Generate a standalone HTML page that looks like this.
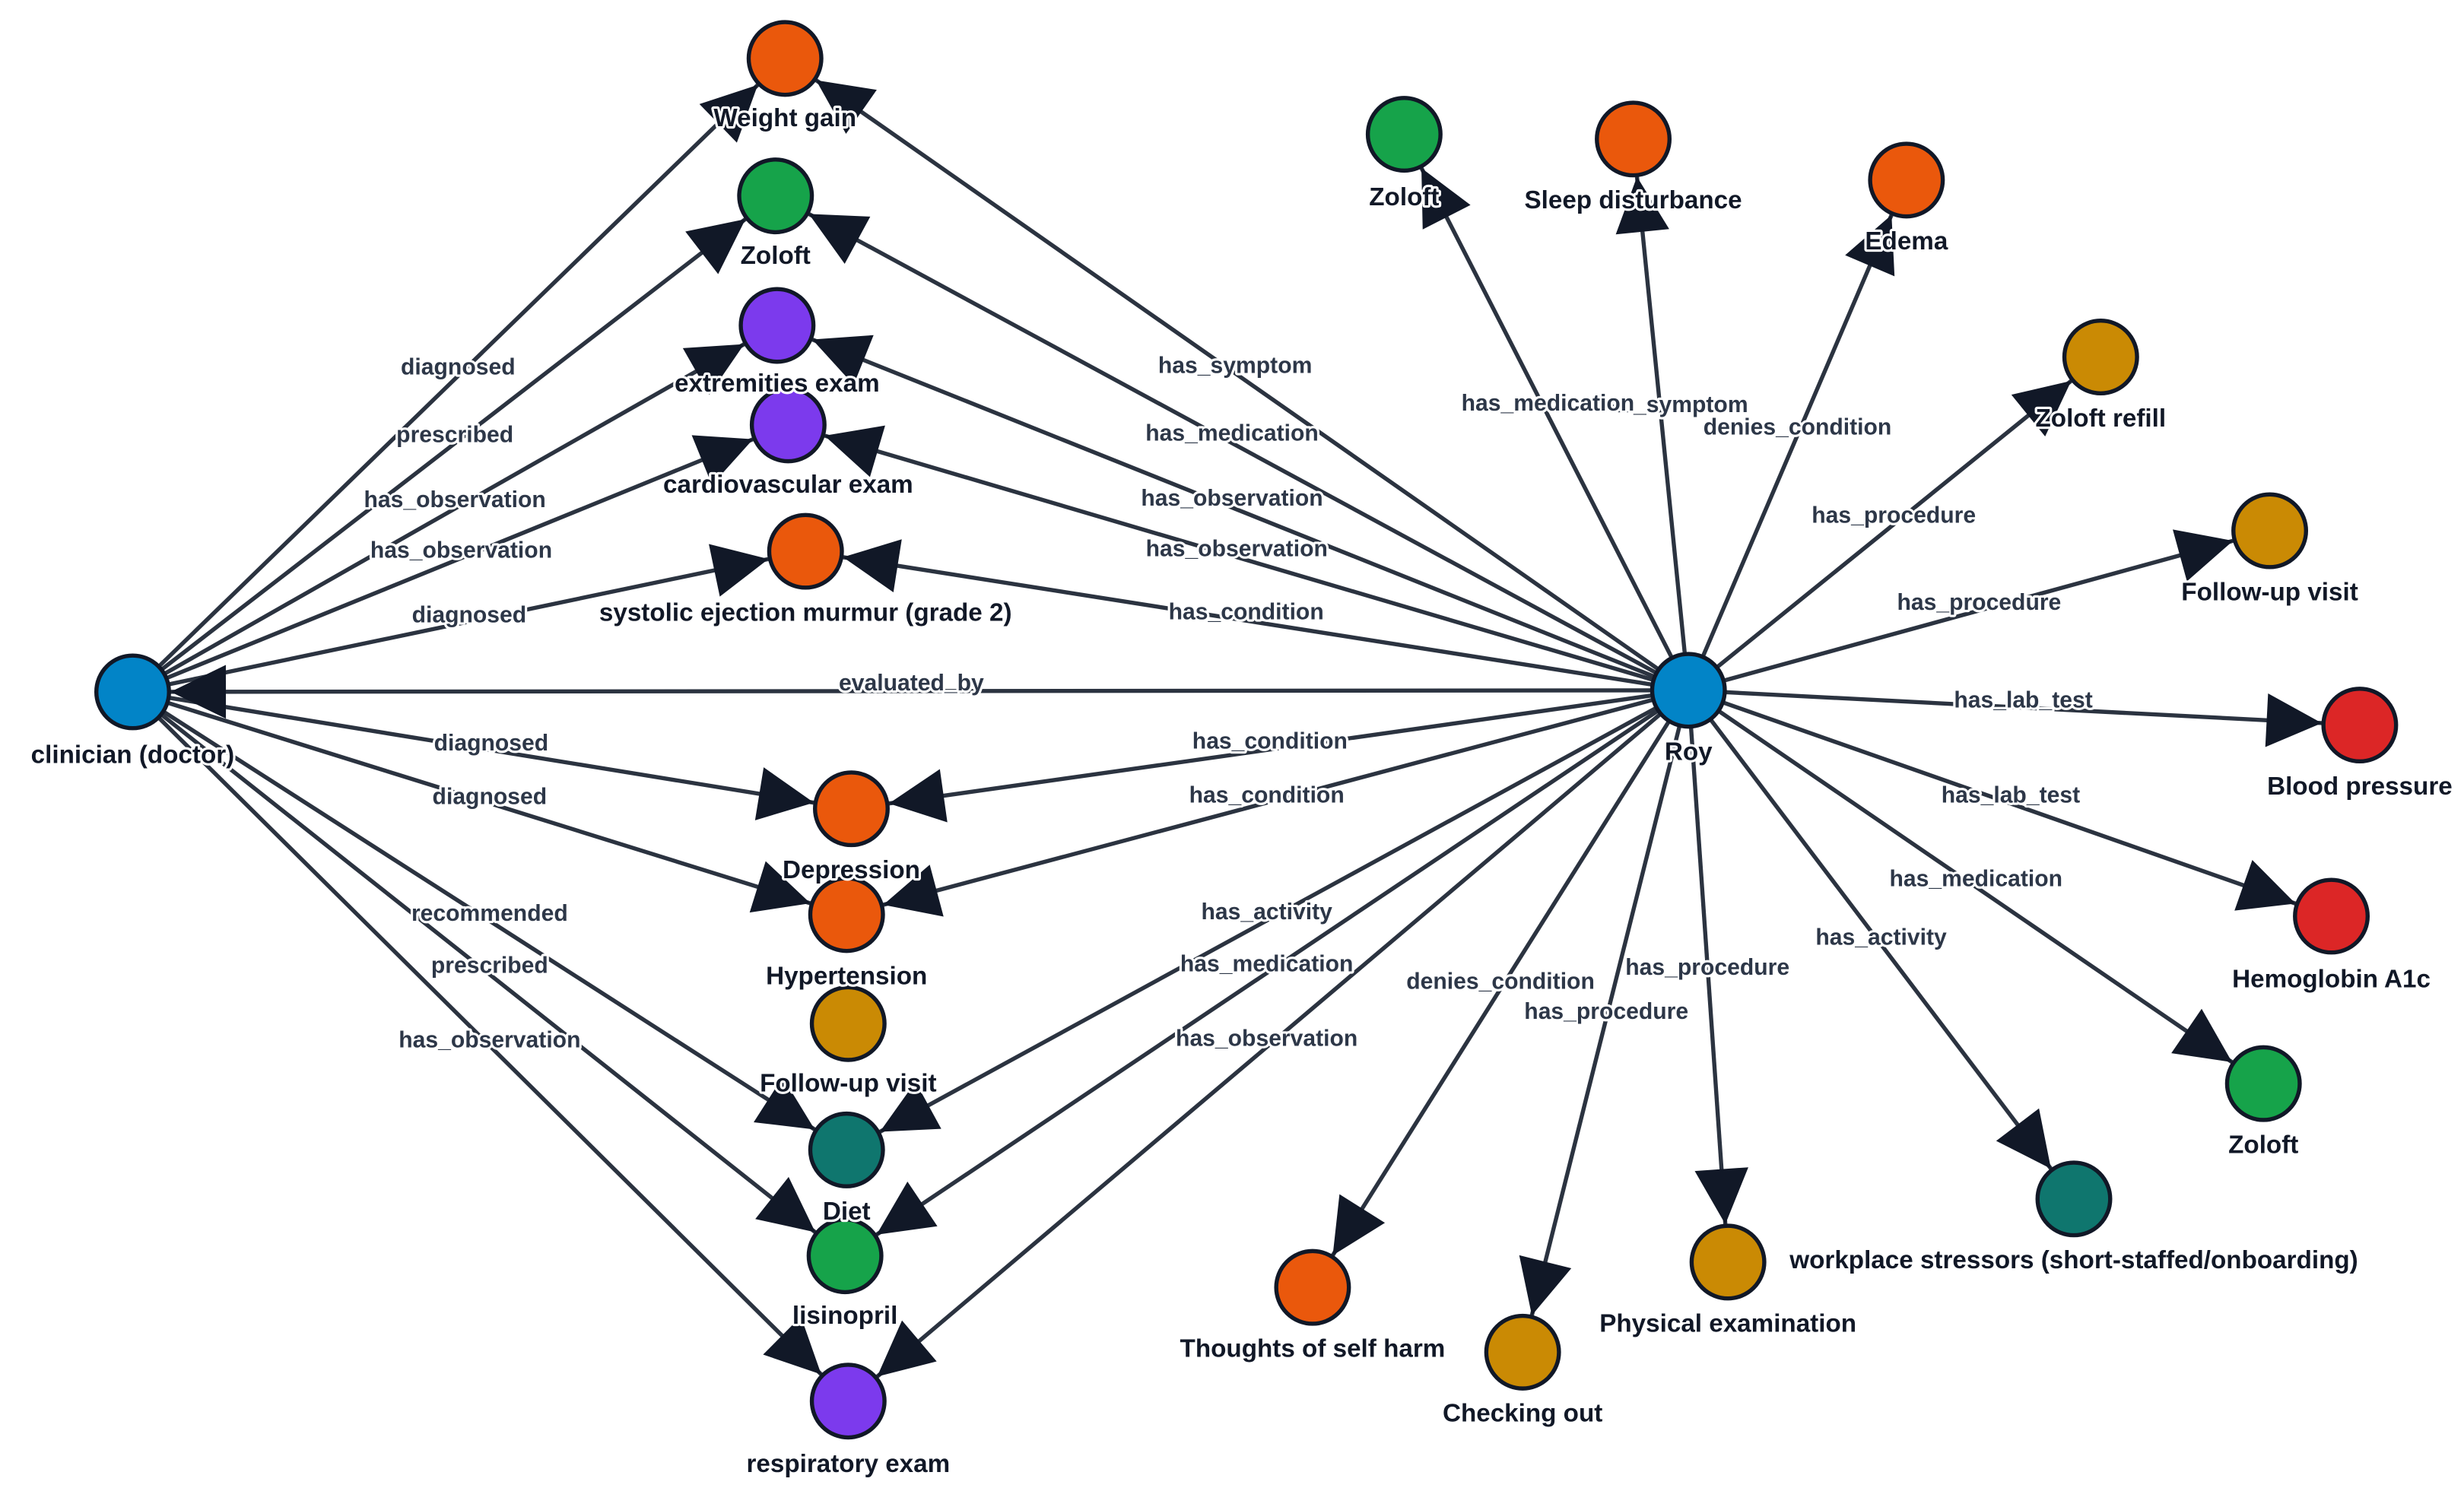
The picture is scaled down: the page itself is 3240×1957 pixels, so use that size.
<!DOCTYPE html>
<html><head><meta charset="utf-8"><style>
html,body{margin:0;padding:0;background:#fff;}
svg{display:block;}
.n{stroke:#111827;stroke-width:2.6;}
.e{stroke:#2b3340;stroke-width:2.6;fill:none;marker-end:url(#ah);}
.nl{font-family:"Liberation Sans",sans-serif;font-size:16px;font-weight:bold;fill:#111827;text-anchor:middle;paint-order:stroke;stroke:#fff;stroke-width:3;stroke-linejoin:round;}
.el{font-family:"Liberation Sans",sans-serif;font-size:14.5px;font-weight:bold;fill:#2d3748;text-anchor:middle;paint-order:stroke;stroke:#fff;stroke-width:3;stroke-linejoin:round;}
</style></head><body>
<svg width="3240" height="1957" viewBox="0 0 1560 942" preserveAspectRatio="none" xmlns="http://www.w3.org/2000/svg">
<defs>
<marker id="ah" markerUnits="userSpaceOnUse" markerWidth="80" markerHeight="60" refX="59" refY="0" orient="auto" viewBox="-5 -30 80 60" overflow="visible">
<path d="M0,-17 L35,0 L0,17 Z" fill="#111827"/>
</marker>
</defs>
<!-- clinician edges -->
<line class="e" x1="84" y1="438" x2="497" y2="37"/>
<line class="e" x1="84" y1="438" x2="491" y2="124"/>
<line class="e" x1="84" y1="438" x2="492" y2="206"/>
<line class="e" x1="84" y1="438" x2="499" y2="269"/>
<line class="e" x1="84" y1="438" x2="510" y2="349"/>
<line class="e" x1="84" y1="438" x2="539" y2="512"/>
<line class="e" x1="84" y1="438" x2="536" y2="579"/>
<line class="e" x1="84" y1="438" x2="536" y2="728"/>
<line class="e" x1="84" y1="438" x2="535" y2="795"/>
<line class="e" x1="84" y1="438" x2="537" y2="887"/>
<!-- Roy edges -->
<line class="e" x1="1069" y1="437" x2="84" y2="438"/>
<line class="e" x1="1069" y1="437" x2="497" y2="37"/>
<line class="e" x1="1069" y1="437" x2="491" y2="124"/>
<line class="e" x1="1069" y1="437" x2="492" y2="206"/>
<line class="e" x1="1069" y1="437" x2="499" y2="269"/>
<line class="e" x1="1069" y1="437" x2="510" y2="349"/>
<line class="e" x1="1069" y1="437" x2="539" y2="512"/>
<line class="e" x1="1069" y1="437" x2="536" y2="579"/>
<line class="e" x1="1069" y1="437" x2="536" y2="728"/>
<line class="e" x1="1069" y1="437" x2="535" y2="795"/>
<line class="e" x1="1069" y1="437" x2="537" y2="887"/>
<line class="e" x1="1069" y1="437" x2="889" y2="85"/>
<line class="e" x1="1069" y1="437" x2="1034" y2="88"/>
<line class="e" x1="1069" y1="437" x2="1207" y2="114"/>
<line class="e" x1="1069" y1="437" x2="1330" y2="226"/>
<line class="e" x1="1069" y1="437" x2="1437" y2="336"/>
<line class="e" x1="1069" y1="437" x2="1494" y2="459"/>
<line class="e" x1="1069" y1="437" x2="1476" y2="580"/>
<line class="e" x1="1069" y1="437" x2="1433" y2="686"/>
<line class="e" x1="1069" y1="437" x2="1313" y2="759"/>
<line class="e" x1="1069" y1="437" x2="1094" y2="799"/>
<line class="e" x1="1069" y1="437" x2="964" y2="856"/>
<line class="e" x1="1069" y1="437" x2="831" y2="815"/>
<!-- edge labels -->
<g class="el">
<text x="290" y="237">diagnosed</text>
<text x="288" y="280">prescribed</text>
<text x="288" y="321">has_observation</text>
<text x="292" y="353">has_observation</text>
<text x="297" y="394">diagnosed</text>
<text x="311" y="475">diagnosed</text>
<text x="310" y="509">diagnosed</text>
<text x="310" y="583">recommended</text>
<text x="310" y="616">prescribed</text>
<text x="310" y="663">has_observation</text>
<text x="577" y="437">evaluated_by</text>
<text x="782" y="236">has_symptom</text>
<text x="780" y="279">has_medication</text>
<text x="780" y="320">has_observation</text>
<text x="783" y="352">has_observation</text>
<text x="789" y="392">has_condition</text>
<text x="804" y="474">has_condition</text>
<text x="802" y="508">has_condition</text>
<text x="802" y="582">has_activity</text>
<text x="802" y="615">has_medication</text>
<text x="802" y="662">has_observation</text>
<text x="1058" y="261">has_symptom</text>
<text x="980" y="260">has_medication</text>
<text x="1138" y="275">denies_condition</text>
<text x="1199" y="331">has_procedure</text>
<text x="1253" y="386">has_procedure</text>
<text x="1281" y="448">has_lab_test</text>
<text x="1273" y="508">has_lab_test</text>
<text x="1251" y="561">has_medication</text>
<text x="1191" y="598">has_activity</text>
<text x="1081" y="617">has_procedure</text>
<text x="1017" y="645">has_procedure</text>
<text x="950" y="626">denies_condition</text>
</g>
<!-- nodes -->
<g>
<circle class="n" cx="84" cy="438" r="23" fill="#0284c7"/>
<circle class="n" cx="1069" cy="437" r="23" fill="#0284c7"/>
<circle class="n" cx="497" cy="37" r="23" fill="#ea580c"/>
<circle class="n" cx="491" cy="124" r="23" fill="#16a34a"/>
<circle class="n" cx="492" cy="206" r="23" fill="#7c3aed"/>
<circle class="n" cx="499" cy="269" r="23" fill="#7c3aed"/>
<circle class="n" cx="510" cy="349" r="23" fill="#ea580c"/>
<circle class="n" cx="539" cy="512" r="23" fill="#ea580c"/>
<circle class="n" cx="536" cy="579" r="23" fill="#ea580c"/>
<circle class="n" cx="537" cy="648" r="23" fill="#ca8a04"/>
<circle class="n" cx="536" cy="728" r="23" fill="#0f766e"/>
<circle class="n" cx="535" cy="795" r="23" fill="#16a34a"/>
<circle class="n" cx="537" cy="887" r="23" fill="#7c3aed"/>
<circle class="n" cx="889" cy="85" r="23" fill="#16a34a"/>
<circle class="n" cx="1034" cy="88" r="23" fill="#ea580c"/>
<circle class="n" cx="1207" cy="114" r="23" fill="#ea580c"/>
<circle class="n" cx="1330" cy="226" r="23" fill="#ca8a04"/>
<circle class="n" cx="1437" cy="336" r="23" fill="#ca8a04"/>
<circle class="n" cx="1494" cy="459" r="23" fill="#dc2626"/>
<circle class="n" cx="1476" cy="580" r="23" fill="#dc2626"/>
<circle class="n" cx="1433" cy="686" r="23" fill="#16a34a"/>
<circle class="n" cx="1313" cy="759" r="23" fill="#0f766e"/>
<circle class="n" cx="1094" cy="799" r="23" fill="#ca8a04"/>
<circle class="n" cx="964" cy="856" r="23" fill="#ca8a04"/>
<circle class="n" cx="831" cy="815" r="23" fill="#ea580c"/>
</g>
<g class="nl">
<text x="84" y="483">clinician (doctor)</text>
<text x="1069" y="481">Roy</text>
<text x="497" y="80">Weight gain</text>
<text x="491" y="167">Zoloft</text>
<text x="492" y="248">extremities exam</text>
<text x="499" y="312">cardiovascular exam</text>
<text x="510" y="393">systolic ejection murmur (grade 2)</text>
<text x="539" y="556">Depression</text>
<text x="536" y="623">Hypertension</text>
<text x="537" y="691">Follow-up visit</text>
<text x="536" y="772">Diet</text>
<text x="535" y="838">lisinopril</text>
<text x="537" y="932">respiratory exam</text>
<text x="889" y="130">Zoloft</text>
<text x="1034" y="132">Sleep disturbance</text>
<text x="1207" y="158">Edema</text>
<text x="1330" y="270">Zoloft refill</text>
<text x="1437" y="380">Follow-up visit</text>
<text x="1494" y="503">Blood pressure</text>
<text x="1476" y="625">Hemoglobin A1c</text>
<text x="1433" y="730">Zoloft</text>
<text x="1313" y="803">workplace stressors (short-staffed/onboarding)</text>
<text x="1094" y="843">Physical examination</text>
<text x="964" y="900">Checking out</text>
<text x="831" y="859">Thoughts of self harm</text>
</g>
</svg>
</body></html>
